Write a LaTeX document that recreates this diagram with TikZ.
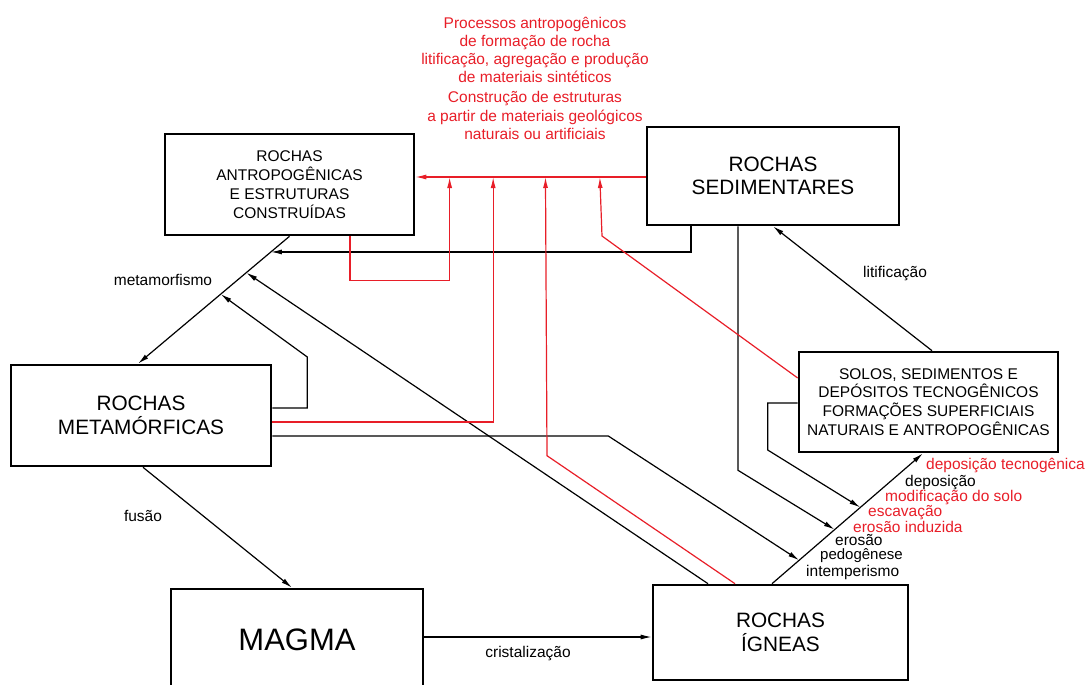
\documentclass[tikz,border=0pt]{standalone}
\usepackage{fontspec}
\setmainfont{Liberation Sans}
\usetikzlibrary{arrows.meta}
\definecolor{antrored}{RGB}{232,30,40}
\tikzstyle{box} = [rectangle, draw=black, line width=2.6pt, inner sep=0pt, align=center, font=\fontsize{20.8}{23.5}\selectfont]
\tikzstyle{smallbox} = [box, font=\fontsize{15.5}{18.8}\selectfont]
\tikzstyle{lbl} = [inner sep=0pt, font=\fontsize{15.5}{18}\selectfont]
\tikzstyle{redlbl} = [lbl, text=antrored]
\tikzstyle{arrow} = [line width=1.2pt, -{Latex[length=11pt,width=5pt]}]
\tikzstyle{redarrow} = [arrow, draw=antrored]

\begin{document}
\begin{tikzpicture}[x=1pt, y=-1pt]
\useasboundingbox (0,0) rectangle (1088,685);

%boxes
\node (antro) [smallbox, minimum width=249pt, minimum height=101pt] at (289.5,184.5) {ROCHAS\\ANTROPOGÊNICAS\\E ESTRUTURAS\\CONSTRUÍDAS};
\node (sed) [box, minimum width=252pt, minimum height=98pt] at (773,176) {ROCHAS\\SEDIMENTARES};
\node (met) [box, minimum width=260pt, minimum height=101pt] at (141,415.5) {ROCHAS\\METAMÓRFICAS};
\node (solos) [smallbox, minimum width=259pt, minimum height=100pt] at (928.5,402) {SOLOS, SEDIMENTOS E\\DEPÓSITOS TECNOGÊNICOS\\FORMAÇÕES SUPERFICIAIS\\NATURAIS E ANTROPOGÊNICAS};
\node (magma) [box, minimum width=252pt, minimum height=102pt, font=\fontsize{31}{36}\selectfont] at (297,640) {MAGMA};
\node (ign) [box, minimum width=255pt, minimum height=95pt] at (780.5,632.5) {ROCHAS\\ÍGNEAS};

%red texts on top
\node (proc) [redlbl, align=center] at (535,50) {Processos antropogênicos\\de formação de rocha\\litificação, agregação e produção\\de materiais sintéticos};
\node (constr) [redlbl, align=center, font=\fontsize{15.5}{18.5}\selectfont] at (535,115.5) {Construção de estruturas\\a partir de materiais geológicos\\naturais ou artificiais};

%main axes
\draw [arrow] (antro.south) -- ([xshift=-3pt]met.north)
  coordinate[pos=0.123] (m1) coordinate[pos=0.285] (m2) coordinate[pos=0.454] (m3);
\draw [arrow] ([xshift=-8.5pt]ign.north) -- ([xshift=-5.5pt]solos.south)
  coordinate[pos=0.18] (d1) coordinate[pos=0.415] (d2) coordinate[pos=0.585] (d3);
\draw [redarrow] ([yshift=-1pt]sed.west) -- ([yshift=7.5pt]antro.east)
  coordinate[pos=0.199] (rd) coordinate[pos=0.435] (rc) coordinate[pos=0.662] (rb) coordinate[pos=0.851] (ra);

%black arrows
\draw [arrow] ([xshift=-82pt]sed.south) |- (m1);
\draw [arrow] ([xshift=-72.5pt]ign.north) -- (m2);
\draw [arrow] ([yshift=7.5pt]met.east) -- ++(35,0) -- ++(0,-51) -- (m3);
\draw [arrow] ([yshift=-20.5pt]met.east) -- ++(336,0) -- (d1);
\draw [arrow] ([xshift=-35pt]sed.south) -- ++(0,244) -- (d2);
\draw [arrow] ([yshift=-1pt]solos.west) -- ++(-30,0) -- ++(0,47) -- (d3);
\draw [arrow] ([xshift=3.5pt]solos.north) -- (sed.south);
\draw [arrow] ([xshift=2pt]met.south) -- ([xshift=-5pt]magma.north);
\draw [arrow] ([yshift=3pt]magma.east) -- ([yshift=-4.5pt]ign.west);

%red arrows
\draw [redarrow] ([xshift=60.5pt]antro.south) -- ++(0,44) -| (ra);
\draw [redarrow] ([yshift=-6.5pt]met.east) -| (rb);
\draw [redarrow] ([xshift=-45.5pt]ign.north) -- ++(-188,-128) -- (rc);
\draw [redarrow] ([yshift=24pt]solos.west) -- ++(-195.7,-142) -- (rd);

%labels
\node (metlbl) [lbl] at (163,280) {metamorfismo};
\node (fuslbl) [lbl] at (143,516) {fusão};
\node (litlbl) [lbl] at (895,274) {litificação};
\node (crislbl) [lbl] at (528,654) {cristalização};
\node (deptec) [redlbl, anchor=west] at (926,465) {deposição tecnogênica};
\node (dep) [lbl, anchor=west] at (905,482.5) {deposição};
\node (modsolo) [redlbl, anchor=west] at (885,498) {modificação do solo};
\node (escav) [redlbl, anchor=west] at (868,512.5) {escavação};
\node (erosind) [redlbl, anchor=west] at (853,526.5) {erosão induzida};
\node (eros) [lbl, anchor=west] at (835,540) {erosão};
\node (pedo) [lbl, anchor=west, font=\fontsize{15}{18}\selectfont] at (820,556) {pedogênese};
\node (intemp) [lbl, anchor=west] at (806,572) {intemperismo};

\end{tikzpicture}
\end{document}
